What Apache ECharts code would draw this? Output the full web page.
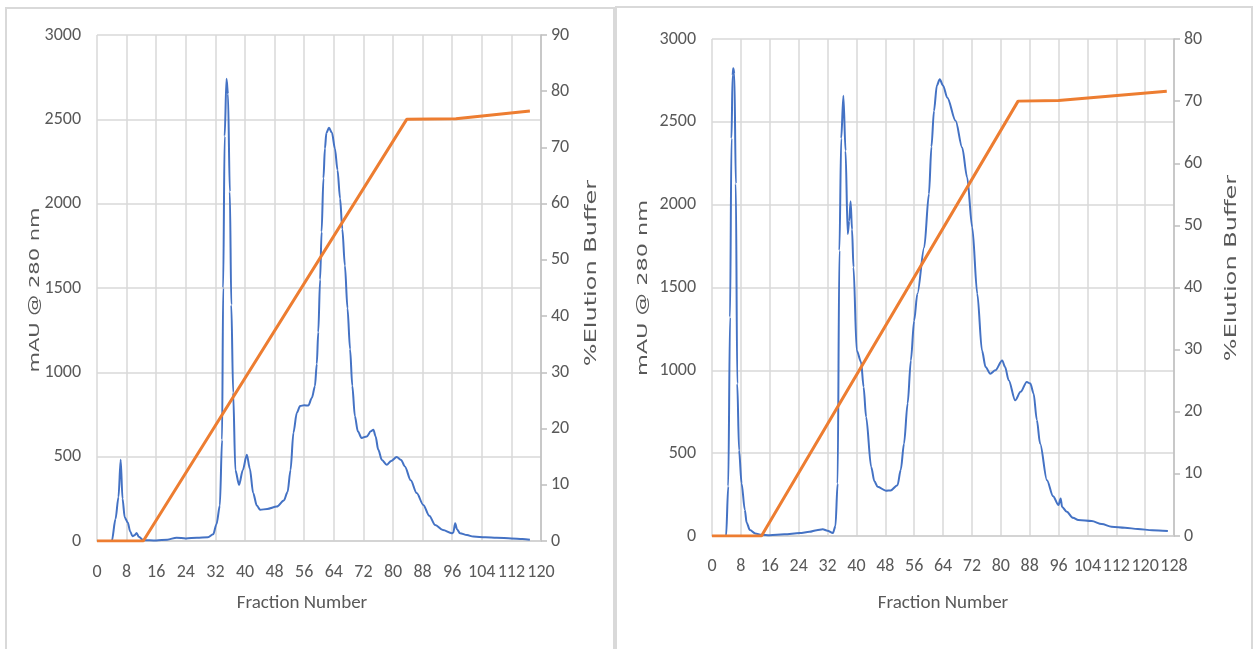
<!DOCTYPE html>
<html>
<head>
<meta charset="utf-8">
<script src="https://cdn.jsdelivr.net/npm/echarts@6/dist/echarts.min.js"></script>
<style>
  html, body { margin: 0; padding: 0; background: #fff; }
  #chart { width: 1254px; height: 649px; }
</style>
</head>
<body>
<div id="chart"></div>
<script>
// left run: absorbance trace (fraction, mAU)
const leftFrac = [0, 4.0, 5.0, 5.8, 6.4, 6.9, 7.5, 8.3, 9.0, 9.6, 10.2, 10.7, 11.3, 12.5, 16, 19, 21.5, 24, 27, 30,
  31.4, 32.3, 33.2, 33.8, 34.1, 34.5, 35.0, 35.4, 35.9, 36.3, 36.8, 37.4, 38.4, 39.4, 40.5, 41.3, 42.2, 43.2, 44.1, 46,
  48.6, 50.5, 51.5, 52.3, 53.1, 54.0, 54.9, 56.0, 57.1, 58.1, 58.9, 59.4, 59.8, 60.3, 60.7, 61.2, 61.6, 62.0, 62.7, 63.5,
  64.3, 65.0, 65.7, 66.3, 67.0, 67.7, 68.4, 69.0, 69.7, 70.5, 71.5, 72.9, 74.0, 74.7, 75.3, 76.0, 77.0, 78.3, 79.5, 81.0,
  82.2, 83.2, 84.8, 86.4, 88.2, 89.8, 91.4, 93.5, 95.9, 96.3, 96.8, 97.3, 98.1, 100, 101.7, 105, 108, 112, 115, 117];
const leftMau = [0, 0, 130, 260, 482, 250, 140, 110, 55, 28, 35, 48, 25, 5, 3, 8, 20, 15, 20, 22,
  40, 100, 210, 600, 1500, 2400, 2740, 2650, 2071, 1400, 880, 420, 333, 420, 512, 430, 285, 210, 185, 190,
  204, 240, 290, 420, 643, 760, 800, 805, 803, 850, 918, 1050, 1238, 1550, 1833, 2150, 2327, 2420, 2450, 2420,
  2327, 2200, 2030, 1850, 1633, 1380, 1137, 920, 740, 650, 611, 620, 650, 660, 620, 542, 480, 452, 475, 498,
  480, 442, 360, 284, 214, 150, 95, 65, 46, 50, 105, 70, 46, 35, 26, 22, 20, 15, 12, 8];
// left run: gradient (fraction, % elution buffer)
const leftGradFrac = [0, 12.5, 83.7, 97, 117];
const leftGradPct = [0, 0, 75, 75.1, 76.5];

// right run
const rightFrac = [0, 3.9, 4.5, 5.0, 5.4, 5.7, 5.9, 6.2, 6.6, 7.0, 7.5, 8.2, 9.1, 9.6, 10.5, 12, 13.7, 16, 20, 24.3,
  27, 29, 30.7, 32, 33.5, 34.2, 34.8, 35.3, 35.8, 36.4, 37.0, 37.6, 38.0, 38.4, 38.8, 39.2, 40.1, 41.3, 42.0, 42.7,
  44.1, 45.0, 45.9, 48.2, 49.5, 51.4, 52.3, 53.2, 54.2, 55.1, 56.0, 56.9, 58.8, 60.1, 60.8, 61.5, 62.3, 63.1, 64.0, 65.2,
  67.5, 69.3, 70.7, 72.1, 73.5, 74.8, 75.8, 77.1, 78.5, 80.4, 81.2, 82.2, 84.0, 85.5, 87.2, 88.2, 89.1, 90.0, 90.9, 92.8,
  94.5, 96.0, 96.6, 97.0, 98.3, 100, 101.5, 105.2, 108, 110.7, 114.4, 118, 122, 126.3];
const rightMau = [0, 0, 300, 1321, 2400, 2780, 2823, 2790, 2126, 920, 518, 317, 157, 80, 36, 15, 8, 5, 10, 18,
  25, 35, 40, 32, 18, 60, 317, 1723, 2400, 2657, 2325, 1823, 1900, 2020, 1850, 1622, 1120, 1050, 900, 718,
  417, 330, 297, 273, 275, 307, 400, 558, 800, 1060, 1300, 1462, 1743, 2064, 2350, 2566, 2720, 2757, 2720, 2646,
  2506, 2345, 2164, 1863, 1462, 1120, 1020, 980, 1000, 1060, 1020, 940, 819, 870, 930, 920, 860, 700, 558, 337,
  240, 187, 227, 175, 146, 110, 96, 90, 72, 56, 50, 42, 35, 30];
const rightGradFrac = [0, 13.7, 84.8, 96, 126];
const rightGradPct = [0, 0, 70, 70.1, 71.6];

const xTitle = "Fraction Number";
const yTitle = "mAU @ 280 nm";
const y2Title = "%Elution Buffer";

const zip = (xs, ys) => xs.map((x, i) => [x, ys[i]]);

const grey = "#595959";
const gridColor = "#d9d9d9";
// Carlito is metric-compatible with Calibri, which the original uses
const tickFont = { color: grey, fontFamily: "Carlito, sans-serif", fontSize: 18 };
const plain = (v) => String(v);

const makeX = (gridIndex, max, gap, labelMargin, shiftLeft) => ({
  type: "value",
  gridIndex,
  min: 0,
  max,
  interval: 8,
  name: xTitle,
  nameLocation: "middle",
  nameGap: gap,
  nameTextStyle: { ...tickFont, fontSize: 19, padding: [0, shiftLeft * 2, 0, 0] },
  axisLine: { show: true, onZero: false, lineStyle: { color: "#cfcfcf", width: 1.5 } },
  axisTick: { show: false },
  axisLabel: { ...tickFont, margin: labelMargin, formatter: plain },
  splitLine: { show: true, lineStyle: { color: gridColor, width: 1.5 } },
});

const makeY = (gridIndex) => ({
  type: "value",
  gridIndex,
  min: 0,
  max: 3000,
  interval: 500,
  axisLine: { show: false },
  axisTick: { show: false },
  axisLabel: { ...tickFont, margin: 16, formatter: plain },
  splitLine: { show: true, lineStyle: { color: gridColor, width: 1.5 } },
});

const makeY2 = (gridIndex, max) => ({
  type: "value",
  gridIndex,
  position: "right",
  min: 0,
  max,
  interval: 10,
  axisLine: { show: true, lineStyle: { color: "#bfbfbf", width: 1.5 } },
  axisTick: { show: true, length: 6, lineStyle: { color: "#bfbfbf", width: 1.5 } },
  axisLabel: { ...tickFont, margin: 10, formatter: plain },
  splitLine: { show: false },
});

const blue = (xi, yi, data) => ({
  type: "line",
  xAxisIndex: xi,
  yAxisIndex: yi,
  data,
  showSymbol: false,
  smooth: 0.3,
  smoothMonotone: "x",
  lineStyle: { color: "#4472C4", width: 2 },
  z: 3,
});

const orange = (xi, yi, data) => ({
  type: "line",
  xAxisIndex: xi,
  yAxisIndex: yi,
  data,
  showSymbol: false,
  lineStyle: { color: "#ED7D31", width: 3 },
  z: 4,
});

const vTitle = (x, y, text, size, stretch) => ({
  type: "text",
  x,
  y,
  rotation: Math.PI / 2,
  scaleX: stretch,
  style: {
    text,
    fill: grey,
    fontFamily: "DejaVu Sans, sans-serif",
    fontSize: size,
    align: "center",
    verticalAlign: "middle",
  },
});

const chart = echarts.init(document.getElementById("chart"));

chart.setOption({
  backgroundColor: "#fff",
  animation: false,
  grid: [
    { left: 97, top: 35, width: 444, height: 506 },
    { left: 712, top: 39, width: 462, height: 497 },
  ],
  xAxis: [makeX(0, 120, 53, 22, 17), makeX(1, 128, 58, 21, 0)],
  yAxis: [makeY(0), makeY2(0, 90), makeY(1), makeY2(1, 80)],
  series: [
    blue(0, 0, zip(leftFrac, leftMau)),
    orange(0, 1, zip(leftGradFrac, leftGradPct)),
    blue(1, 2, zip(rightFrac, rightMau)),
    orange(1, 3, zip(rightGradFrac, rightGradPct)),
  ],
  graphic: [
    { type: "rect", shape: { x: 6, y: 8, width: 608, height: 660 }, style: { fill: "none", stroke: gridColor, lineWidth: 2 } },
    { type: "rect", shape: { x: 616, y: 7, width: 636, height: 660 }, style: { fill: "none", stroke: gridColor, lineWidth: 2 } },
    vTitle(35, 290, yTitle, 14, 1.5),
    vTitle(592, 273, y2Title, 15, 1.6),
    vTitle(643, 288, yTitle, 14, 1.6),
    vTitle(1232, 268, y2Title, 15, 1.6),
  ],
});
</script>
</body>
</html>
